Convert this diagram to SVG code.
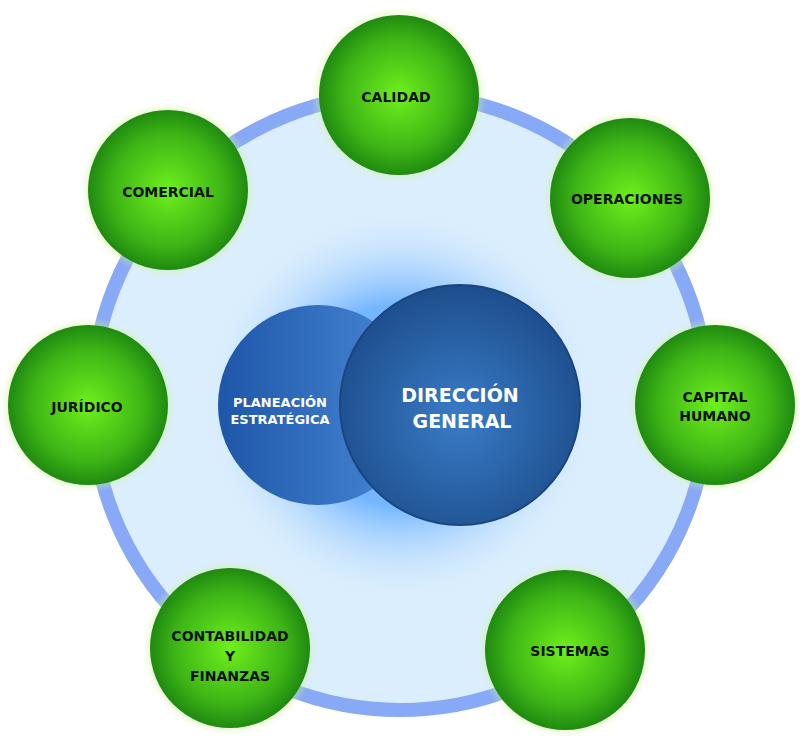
<svg xmlns="http://www.w3.org/2000/svg" width="800" height="750" viewBox="0 0 800 750">
<defs>
<radialGradient id="g" cx="50%" cy="50%" r="50%"><stop offset="0" stop-color="#6ef01c"/><stop offset="0.7" stop-color="#3db416"/><stop offset="1" stop-color="#1f8a10"/></radialGradient>
<radialGradient id="glow" cx="50%" cy="50%" r="50%"><stop offset="0.8" stop-color="#b8f36a" stop-opacity="0.8"/><stop offset="1" stop-color="#d8f5b0" stop-opacity="0"/></radialGradient>
<radialGradient id="bglow" cx="50%" cy="50%" r="50%"><stop offset="0.5" stop-color="#5aa8ff" stop-opacity="0.8"/><stop offset="1" stop-color="#dbeefd" stop-opacity="0"/></radialGradient>
<linearGradient id="pl" x1="0" y1="0" x2="1" y2="0"><stop offset="0" stop-color="#1e56a8"/><stop offset="1" stop-color="#4a8ad8"/></linearGradient>
<radialGradient id="dg" cx="50%" cy="55%" r="55%"><stop offset="0" stop-color="#3a7cc8"/><stop offset="1" stop-color="#1d4e8c"/></radialGradient>
<style>
.gc{fill:url(#g)}
.gl{fill:url(#glow)}
.t{font-family:"DejaVu Sans",sans-serif;font-weight:bold;font-size:14px;fill:#111;text-anchor:middle}
.w{font-family:"DejaVu Sans",sans-serif;font-weight:bold;fill:#fff;text-anchor:middle}
</style>
</defs>
<rect width="800" height="750" fill="#fff"/>
<circle cx="400" cy="402" r="308" fill="#dbeefd" stroke="#88a9f5" stroke-width="14"/>
<g id="center">
<circle cx="400" cy="405" r="200" fill="url(#bglow)"/>
<g id="planeacion"><circle cx="318" cy="405" r="100" fill="url(#pl)"/>
<text class="w" x="280" y="407" font-size="13">PLANEACIÓN</text><text class="w" x="280" y="424" font-size="13">ESTRATÉGICA</text></g>
<g id="direccion"><circle cx="460" cy="405" r="120" fill="url(#dg)" stroke="#1a4580" stroke-width="2"/>
<text class="w" x="460" y="402" font-size="19">DIRECCIÓN</text><text class="w" x="462" y="428" font-size="19">GENERAL</text></g>
</g>
<g id="calidad"><circle cx="399" cy="95" r="88" class="gl"/><circle cx="399" cy="95" r="80" class="gc"/><text class="t" x="396" y="102">CALIDAD</text></g>
<g id="operaciones"><circle cx="630" cy="198" r="88" class="gl"/><circle cx="630" cy="198" r="80" class="gc"/><text class="t" x="627" y="204">OPERACIONES</text></g>
<g id="capital"><circle cx="715" cy="405" r="88" class="gl"/><circle cx="715" cy="405" r="80" class="gc"/><text class="t" x="715" y="402">CAPITAL</text><text class="t" x="715" y="421">HUMANO</text></g>
<g id="sistemas"><circle cx="565" cy="650" r="88" class="gl"/><circle cx="565" cy="650" r="80" class="gc"/><text class="t" x="570" y="656">SISTEMAS</text></g>
<g id="contabilidad"><circle cx="230" cy="648" r="88" class="gl"/><circle cx="230" cy="648" r="80" class="gc"/><text class="t" x="230" y="641">CONTABILIDAD</text><text class="t" x="230" y="661">Y</text><text class="t" x="230" y="681">FINANZAS</text></g>
<g id="juridico"><circle cx="88" cy="405" r="88" class="gl"/><circle cx="88" cy="405" r="80" class="gc"/><text class="t" x="87" y="412">JURÍDICO</text></g>
<g id="comercial"><circle cx="168" cy="190" r="88" class="gl"/><circle cx="168" cy="190" r="80" class="gc"/><text class="t" x="168" y="197">COMERCIAL</text></g>
<g id="connectors"/>
</svg>
